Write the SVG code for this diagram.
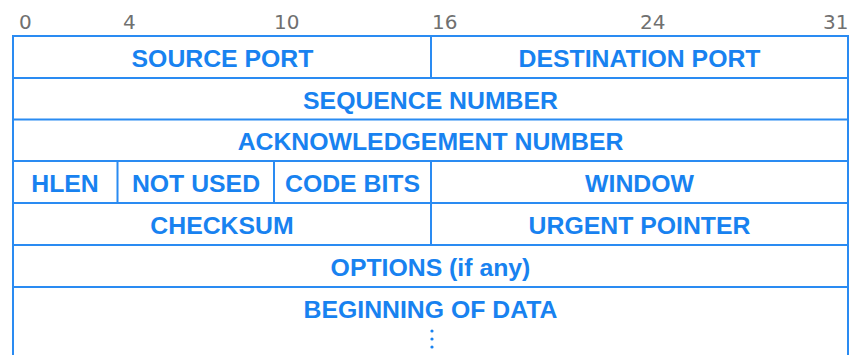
<svg xmlns="http://www.w3.org/2000/svg" width="849" height="355" viewBox="0 0 849 355">
  <style>
    .bits { font-family: "DejaVu Sans", "Liberation Sans", sans-serif; font-size: 20px; fill: #707070; }
    .lbl { font-family: "Liberation Sans", Arial, sans-serif; font-weight: bold; font-size: 24.8px; fill: #1882f0; text-anchor: middle; }
    .grid { stroke: #2a8bf2; stroke-width: 2; fill: none; }
    .dot { fill: #1882f0; }
  </style>

  <!-- bit positions -->
  <g id="bit-scale">
    <text class="bits" x="19" y="29">0</text>
    <text class="bits" x="123" y="29">4</text>
    <text class="bits" x="274" y="29">10</text>
    <text class="bits" x="432" y="29">16</text>
    <text class="bits" x="640" y="29">24</text>
    <text class="bits" x="823" y="29">31</text>
  </g>

  <!-- field boundaries -->
  <g id="grid" class="grid">
    <path d="M13,355 V36 H848 V355"/>
    <path d="M13,78 H848 M13,119.5 H848 M13,161 H848 M13,203 H848 M13,245 H848 M13,287 H848"/>
    <path d="M431,36 V78 M431,161 V245"/>
    <path d="M117.5,161 V203 M274,161 V203"/>
  </g>

  <g id="source-port"><text class="lbl" x="222.5" y="67">SOURCE PORT</text></g>
  <g id="destination-port"><text class="lbl" x="639.5" y="67">DESTINATION PORT</text></g>
  <g id="sequence-number"><text class="lbl" x="430.5" y="109">SEQUENCE NUMBER</text></g>
  <g id="ack-number"><text class="lbl" x="430.5" y="150">ACKNOWLEDGEMENT NUMBER</text></g>
  <g id="hlen"><text class="lbl" x="65" y="192">HLEN</text></g>
  <g id="not-used"><text class="lbl" x="196" y="192">NOT USED</text></g>
  <g id="code-bits"><text class="lbl" x="352.5" y="192">CODE BITS</text></g>
  <g id="window"><text class="lbl" x="639.5" y="192">WINDOW</text></g>
  <g id="checksum"><text class="lbl" x="222" y="234">CHECKSUM</text></g>
  <g id="urgent-pointer"><text class="lbl" x="639.5" y="234">URGENT POINTER</text></g>
  <g id="options"><text class="lbl" x="430.5" y="276">OPTIONS (if any)</text></g>
  <g id="data">
    <text class="lbl" x="430.5" y="318">BEGINNING OF DATA</text>
    <circle class="dot" cx="432" cy="331" r="1.6"/>
    <circle class="dot" cx="432" cy="339" r="1.6"/>
    <circle class="dot" cx="432" cy="347" r="1.6"/>
  </g>
</svg>
